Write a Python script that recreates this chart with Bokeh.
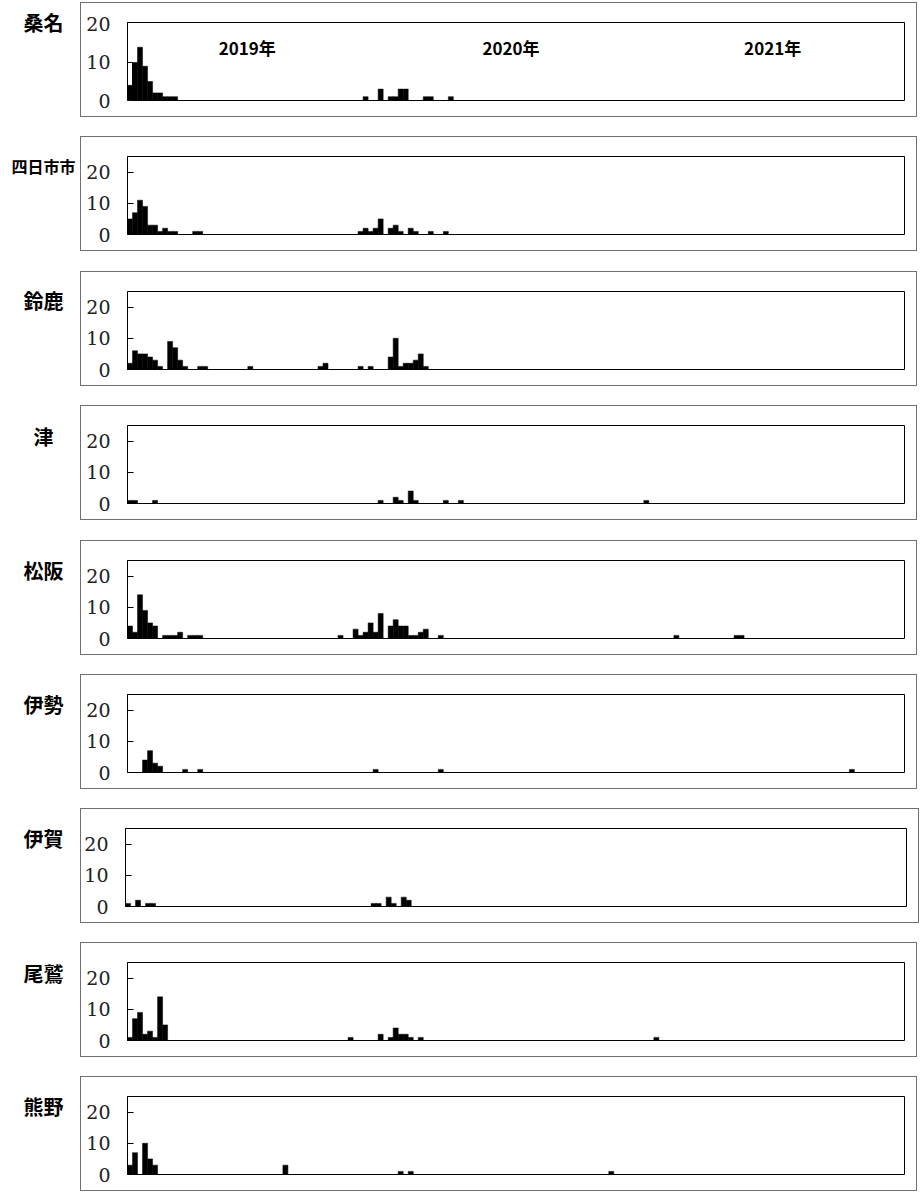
from bokeh.plotting import figure
from bokeh.layouts import column, row
from bokeh.models import Range1d, FixedTicker
from bokeh.core.properties import value
from bokeh.embed import file_html
from bokeh.resources import INLINE

# ---- data (weekly report counts, week index 0 = first week of 2019) ----
regions = ["桑名", "四日市市", "鈴鹿", "津", "松阪", "伊勢", "伊賀", "尾鷲", "熊野"]

kuwana_weeks = [0, 1, 2, 3, 4, 5, 6, 7, 8, 9, 47, 50, 52, 53, 54, 55, 59, 60, 64]
kuwana_counts = [4, 10, 14, 9, 5, 2, 2, 1, 1, 1, 1, 3, 1, 1, 3, 3, 1, 1, 1]
kuwana_outline_weeks = [0]
kuwana_outline_counts = [10]

yokkaichi_weeks = [0, 1, 2, 3, 4, 5, 6, 7, 8, 9, 13, 14, 46, 47, 48, 49, 50, 52, 53, 54, 56, 57, 60, 63]
yokkaichi_counts = [5, 7, 11, 9, 3, 3, 1, 2, 1, 1, 1, 1, 1, 2, 1, 2, 5, 2, 3, 1, 2, 1, 1, 1]

suzuka_weeks = [0, 1, 2, 3, 4, 5, 6, 8, 9, 10, 11, 14, 15, 24, 38, 39, 46, 48, 52, 53, 54, 55, 56, 57, 58, 59]
suzuka_counts = [2, 6, 5, 5, 4, 3, 1, 9, 7, 3, 1, 1, 1, 1, 1, 2, 1, 1, 4, 10, 1, 2, 2, 3, 5, 1]

tsu_weeks = [0, 1, 5, 50, 53, 54, 56, 57, 63, 66, 103]
tsu_counts = [1, 1, 1, 1, 2, 1, 4, 1, 1, 1, 1]

matsusaka_weeks = [0, 1, 2, 3, 4, 5, 7, 8, 9, 10, 12, 13, 14, 42, 45, 46, 47, 48, 49, 50,
                   52, 53, 54, 55, 56, 57, 58, 59, 62, 109, 121, 122]
matsusaka_counts = [4, 2, 14, 9, 5, 4, 1, 1, 1, 2, 1, 1, 1, 1, 3, 1, 2, 5, 2, 8,
                    4, 6, 4, 4, 1, 1, 2, 3, 1, 1, 1, 1]

ise_weeks = [3, 4, 5, 6, 11, 14, 49, 62, 144]
ise_counts = [4, 7, 3, 2, 1, 1, 1, 1, 1]

iga_weeks = [0, 2, 4, 5, 49, 50, 52, 53, 55, 56]
iga_counts = [1, 2, 1, 1, 1, 1, 3, 1, 3, 2]

owase_weeks = [0, 1, 2, 3, 4, 5, 6, 7, 44, 50, 52, 53, 54, 55, 56, 58, 105]
owase_counts = [1, 7, 9, 2, 3, 1, 14, 5, 1, 2, 1, 4, 2, 2, 1, 1, 1]

kumano_weeks = [0, 1, 3, 4, 5, 31, 54, 56, 96]
kumano_counts = [3, 7, 10, 5, 3, 3, 1, 1, 1]

year_labels = ["2019年", "2020年", "2021年"]
year_label_weeks = [23.4, 76.0, 128.2]
y_ticks = [0, 10, 20]

series = [
    (kuwana_weeks, kuwana_counts),
    (yokkaichi_weeks, yokkaichi_counts),
    (suzuka_weeks, suzuka_counts),
    (tsu_weeks, tsu_counts),
    (matsusaka_weeks, matsusaka_counts),
    (ise_weeks, ise_counts),
    (iga_weeks, iga_counts),
    (owase_weeks, owase_counts),
    (kumano_weeks, kumano_counts),
]

# layout (pixels)
CANVAS_W = 835
H_TOP, H_FRAME, H_BOT = 19, 76, 18
PANEL_H = H_TOP + H_FRAME + H_BOT          # canvas height (border adds 2)
LABEL_W = 80
panel_tops = [2, 136, 271, 405, 540, 674, 808, 942, 1076]
label_offsets = [20, 29, 29, 31, 30, 30, 30, 31, 30]   # label centre below panel top
TOTAL_H = panel_tops[-1] + PANEL_H + 2

panels = []
prev_bottom = 0
for i, (name, (wk, ct)) in enumerate(zip(regions, series)):
    first = i == 0
    left = 42 if name == "伊賀" else 46
    right = 14
    fw = CANVAS_W - left - right
    p = figure(frame_width=fw, frame_height=H_FRAME,
               min_border_left=left, min_border_right=right,
               min_border_top=H_TOP, min_border_bottom=H_BOT,
               x_range=Range1d(-0.5, -0.5 + fw / 5.0),
               y_range=Range1d(0, 20.5 if first else 25),
               output_backend="svg", toolbar_location=None, title=None)
    p.xaxis.visible = False
    p.grid.visible = False
    p.outline_line_color = "black"
    p.outline_line_width = 1
    p.background_fill_color = "white"
    p.border_fill_color = "white"
    ax = p.yaxis[0]
    ax.ticker = FixedTicker(ticks=y_ticks)
    ax.minor_tick_line_color = None
    ax.major_tick_out = 0
    ax.major_tick_in = 0 if first else 6
    ax.major_tick_line_color = "black"
    ax.axis_line_color = "black"
    ax.major_label_standoff = 17
    ax.major_label_text_font = "DejaVu Serif"
    ax.major_label_text_font_size = "19px"
    ax.major_label_text_color = "#222222"
    p.styles = {"border": "1px solid #707070"}

    if first:
        p.vbar(x=kuwana_outline_weeks, top=kuwana_outline_counts, width=1.0,
               fill_color="white", line_color="black", line_width=1)
    p.vbar(x=wk, top=ct, width=1.0, fill_color="black", line_color="black", line_width=0.5)

    if first:
        p.text(x=year_label_weeks, y=[13.8] * 3, text=year_labels,
               text_font=value("Noto Sans CJK JP"), text_font_style="bold",
               text_font_size="17px", text_align="center", text_baseline="middle",
               text_color="black")

    gap = panel_tops[i] - prev_bottom
    prev_bottom = panel_tops[i] + PANEL_H + 2
    panels.append(row(p, margin=(gap, 0, 0, 0)))

# one tall strip on the left carrying the region names
lab = figure(frame_width=LABEL_W, frame_height=TOTAL_H, title=None,
             x_axis_type=None, y_axis_type=None,
             x_range=Range1d(0, LABEL_W), y_range=Range1d(0, TOTAL_H),
             min_border=0, output_backend="svg", toolbar_location=None)
lab.grid.visible = False
lab.outline_line_color = None
for i, name in enumerate(regions):
    fs = "16px" if len(name) > 2 else "20px"
    ly = TOTAL_H - (panel_tops[i] + label_offsets[i])
    lab.text(x=[43], y=[ly], text=[name],
             text_font=value("Noto Sans CJK JP"), text_font_style="bold",
             text_font_size=fs, text_align="center", text_baseline="middle",
             text_color="black")

layout = row(lab, column(*panels, spacing=0), spacing=0)
open("out.html", "w").write(file_html(layout, INLINE))
